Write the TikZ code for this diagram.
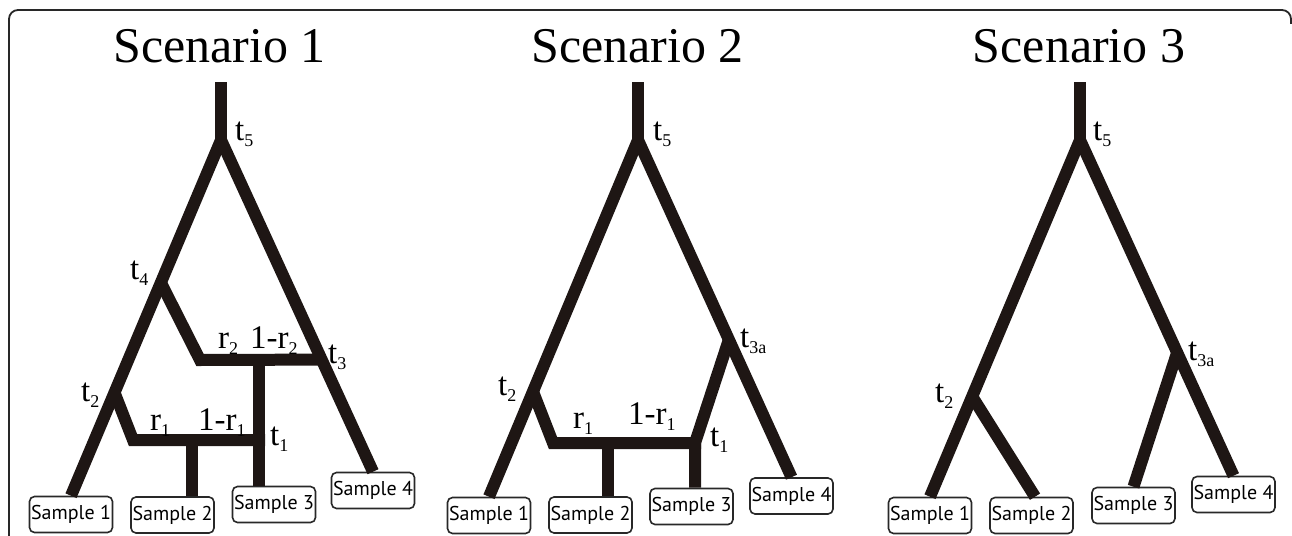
\documentclass[tikz,border=0pt]{standalone}
\usepackage{fontspec}
\setmainfont{Liberation Serif}
\newfontfamily\boxfont{PT Sans}
\usetikzlibrary{calc}
\definecolor{treecol}{RGB}{30,22,20}
\definecolor{framecol}{RGB}{40,40,40}
\newcommand\tsub[2]{#1\raisebox{-6pt}{\fontsize{18}{18}\selectfont #2}}
\tikzset{
  branch/.style={draw=treecol, line width=12pt, line join=miter, line cap=butt},
  samplebox/.style={draw=framecol, line width=1.6pt, rounded corners=5pt,
    minimum width=83pt, minimum height=36pt, inner sep=0pt, fill=white,
    font=\boxfont\fontsize{20}{20}\selectfont},
  tlab/.style={anchor=base west, inner sep=0pt, font=\fontsize{33}{33}\selectfont},
  scentitle/.style={anchor=base, inner sep=0pt, font=\fontsize{50}{50}\selectfont},
}
\begin{document}
\begin{tikzpicture}[x=1pt,y=-1pt]
\useasboundingbox (0,0) rectangle (1292,535);
% frame
\draw[framecol, line width=1.8pt, rounded corners=9pt] (9,536) -- (9,10) -- (1291,10) -- (1291,24);

% ---------------- Scenario 1 ----------------
\node[scentitle] (A-title) at (219.5,63) {Scenario 1};
\node[samplebox] (A-s1) at (71,514.5) {Sample 1};
\node[samplebox] (A-s2) at (172.5,515) {Sample 2};
\node[samplebox] (A-s3) at (274,504.5) {Sample 3};
\node[samplebox] (A-s4) at (373,490.5) {Sample 4};
\coordinate (A-top) at (221,82);
\coordinate (A-t5) at (221,140);
\coordinate (A-t4) at ($(A-t5)!0.401!(A-s1.north)$);
\coordinate (A-t2) at ($(A-t5)!0.71!(A-s1.north)$);
\coordinate (A-t3) at ($(A-t5)!0.662!(A-s4.north)$);
\coordinate (A-c4) at (200,360);
\coordinate (A-c2) at (133,440);
\coordinate (A-b2) at (265,440);
\coordinate (A-v3) at (259,360);
\coordinate (A-v2) at (192,440);
\draw[branch] (A-top) -- ($(A-t5)+(0,4)$);
\draw[branch] (A-t5) -- (A-s1.north);
\draw[branch] (A-t5) -- (A-s4.north);
\draw[branch] (A-t4) -- (A-c4) -- (A-t3);
\draw[branch] (A-v3) -- (A-v3 |- A-s3.north);
\draw[branch] (A-t2) -- (A-c2) -- (A-b2);
\draw[branch] (A-v2) -- (A-v2 |- A-s2.north);
\node[tlab] (A-l5) at (235,140) {\tsub{t}{5}};
\node[tlab] (A-l4) at (130,279) {\tsub{t}{4}};
\node[tlab] (A-l3) at (328,363) {\tsub{t}{3}};
\node[tlab] (A-l2) at (81,401) {\tsub{t}{2}};
\node[tlab] (A-lr2) at (218,348) {\tsub{r}{2}};
\node[tlab] (A-lq2) at (250,348) {\tsub{1-r}{2}};
\node[tlab] (A-lr1) at (150,430) {\tsub{r}{1}};
\node[tlab] (A-lq1) at (198,430) {\tsub{1-r}{1}};
\node[tlab] (A-l1) at (270,445) {\tsub{t}{1}};

% ---------------- Scenario 2 ----------------
\node[scentitle] (B-title) at (637.5,63) {Scenario 2};
\node[samplebox] (B-s1) at (489,515.5) {Sample 1};
\node[samplebox] (B-s2) at (590.5,515) {Sample 2};
\node[samplebox] (B-s3) at (691.5,506.5) {Sample 3};
\node[samplebox] (B-s4) at (791.5,496) {Sample 4};
\coordinate (B-top) at (638,82);
\coordinate (B-t5) at (638,140);
\coordinate (B-t2) at ($(B-t5)!0.705!(B-s1.north)$);
\coordinate (B-t3a) at ($(B-t5)!0.592!(B-s4.north)$);
\coordinate (B-t1) at (695,443);
\coordinate (B-c2) at (553,443);
\coordinate (B-b2) at (701,443);
\coordinate (B-v2) at (608,443);
\draw[branch] (B-top) -- ($(B-t5)+(0,4)$);
\draw[branch] (B-t5) -- (B-s1.north);
\draw[branch] (B-t5) -- (B-s4.north);
\draw[branch] (B-t3a) -- (B-t1) -- (B-t1 |- B-s3.north);
\draw[branch] (B-t2) -- (B-c2) -- (B-b2);
\draw[branch] (B-v2) -- (B-v2 |- B-s2.north);
\node[tlab] (B-l5) at (653,140) {\tsub{t}{5}};
\node[tlab] (B-l3) at (740,347) {\tsub{t}{3a}};
\node[tlab] (B-l2) at (498,395) {\tsub{t}{2}};
\node[tlab] (B-lr1) at (573,428) {\tsub{r}{1}};
\node[tlab] (B-lq1) at (628,424) {\tsub{1-r}{1}};
\node[tlab] (B-l1) at (710,446) {\tsub{t}{1}};

% ---------------- Scenario 3 ----------------
\node[scentitle] (C-title) at (1079,63) {Scenario 3};
\node[samplebox] (C-s1) at (930,515.5) {Sample 1};
\node[samplebox] (C-s2) at (1031.5,515.5) {Sample 2};
\node[samplebox] (C-s3) at (1133.5,505.5) {Sample 3};
\node[samplebox] (C-s4) at (1233.5,494.5) {Sample 4};
\coordinate (C-top) at (1080,82);
\coordinate (C-t5) at (1080,140);
\coordinate (C-t2) at ($(C-t5)!0.719!(C-s1.north)$);
\coordinate (C-t3a) at ($(C-t5)!0.633!(C-s4.north)$);
\draw[branch] (C-top) -- ($(C-t5)+(0,4)$);
\draw[branch] (C-t5) -- (C-s1.north);
\draw[branch] (C-t5) -- (C-s4.north);
\draw[branch] (C-t2) -- ($(C-s2.north)+(3.5,0)$);
\draw[branch] (C-t3a) -- (C-s3.north);
\node[tlab] (C-l5) at (1093,140) {\tsub{t}{5}};
\node[tlab] (C-l3) at (1188,360) {\tsub{t}{3a}};
\node[tlab] (C-l2) at (935,402) {\tsub{t}{2}};
\end{tikzpicture}
\end{document}
